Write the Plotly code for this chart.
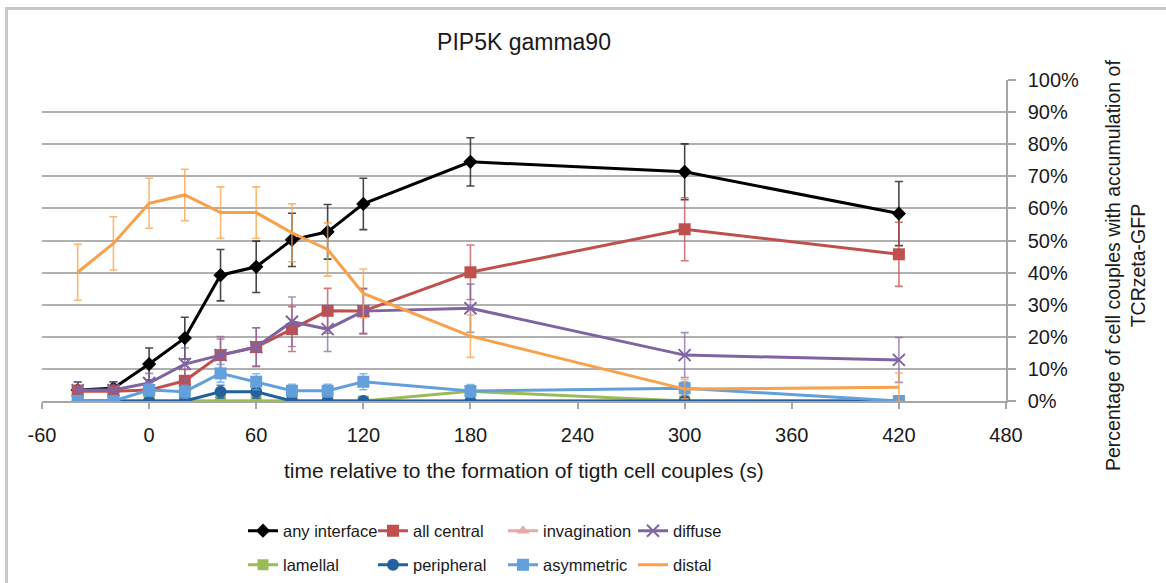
import plotly.graph_objects as go

# ---------------- data ----------------
time_s = [-40, -20, 0, 20, 40, 60, 80, 100, 120, 180, 300, 420]

series_names = ["any interface", "all central", "invagination", "diffuse",
                "lamellal", "peripheral", "asymmetric", "distal"]

any_interface = [3.4, 4.0, 11.5, 19.6, 39.2, 41.8, 50.2, 52.7, 61.4, 74.5, 71.4, 58.4]
any_interface_err = [2.5, 2.0, 5.0, 6.5, 8.0, 8.0, 8.3, 8.5, 8.0, 7.5, 8.7, 10.0]

all_central = [3.0, 3.0, 3.4, 6.3, 14.3, 16.8, 22.4, 28.1, 28.0, 40.1, 53.5, 45.7]
all_central_err = [2.0, 2.0, 2.5, 3.5, 5.0, 6.0, 7.0, 7.0, 7.0, 8.5, 9.8, 10.0]

invagination = [0, 0, 0, 0, 0, 0, 0, 0, 0, 0, 0, 0]
invagination_err = [0, 0, 0, 0, 0, 0, 0, 0, 0, 0, 0, 0]

diffuse = [3.4, 3.4, 5.6, 11.5, 14.3, 16.8, 24.7, 22.4, 28.0, 28.9, 14.3, 12.8]
diffuse_err = [2.5, 2.5, 3.0, 5.0, 5.8, 6.0, 7.7, 7.0, 7.0, 7.5, 7.0, 7.0]

lamellal = [0, 0, 0, 0, 0, 0, 0, 0, 0, 3.0, 0, 0]
lamellal_err = [0, 0, 0, 0, 0, 0, 0, 0, 0, 1.5, 0, 0]

peripheral = [0, 0, 0, 0, 2.9, 2.9, 0, 0, 0, 0, 0, 0]
peripheral_err = [0, 0, 0, 0, 2.0, 2.0, 0, 0, 0, 0, 0, 0]

asymmetric = [0, 0, 3.4, 2.9, 8.6, 6.0, 3.2, 3.2, 6.0, 3.1, 4.0, 0]
asymmetric_err = [0, 0, 2.0, 2.0, 2.8, 2.5, 2.0, 2.0, 2.5, 2.0, 2.0, 0]

distal = [40.1, 49.1, 61.6, 64.2, 58.7, 58.7, 52.4, 47.2, 33.5, 20.2, 3.7, 4.3]
distal_err = [8.7, 8.3, 7.8, 8.0, 8.0, 8.0, 9.0, 8.3, 7.6, 6.6, 3.0, 4.4]

x_ticks = [-60, 0, 60, 120, 180, 240, 300, 360, 420, 480]
y_ticks = [0, 10, 20, 30, 40, 50, 60, 70, 80, 90, 100]

# ---------------- styles ----------------
styles = [
    dict(color="#000000", err="rgba(40,40,40,0.85)", symbol="diamond", size=11, mode="lines+markers"),
    dict(color="#C0504D", err="rgba(192,80,77,0.75)", symbol="square", size=12, mode="lines+markers"),
    dict(color="#E6A9A8", err="rgba(230,169,168,0.75)", symbol="triangle-up", size=11, mode="lines+markers"),
    dict(color="#8064A2", err="rgba(128,100,162,0.7)", symbol="x-thin-open", size=12, mode="lines+markers"),
    dict(color="#9BBB59", err="rgba(155,187,89,0.75)", symbol="square", size=11, mode="lines+markers"),
    dict(color="#23609C", err="rgba(35,96,156,0.75)", symbol="circle", size=12, mode="lines+markers"),
    dict(color="#63A0DB", err="rgba(99,160,219,0.75)", symbol="square", size=12, mode="lines+markers"),
    dict(color="#F9A04A", err="rgba(249,160,74,0.75)", symbol="circle", size=1, mode="lines"),
]

values = [any_interface, all_central, invagination, diffuse,
          lamellal, peripheral, asymmetric, distal]
errors = [any_interface_err, all_central_err, invagination_err, diffuse_err,
          lamellal_err, peripheral_err, asymmetric_err, distal_err]

fig = go.Figure()
for i, (name, vals, errs, st) in enumerate(zip(series_names, values, errors, styles)):
    marker = dict(color=st["color"], symbol=st["symbol"], size=st["size"])
    if st["symbol"] == "x-thin-open":
        marker["line"] = dict(color=st["color"], width=2)
    fig.add_trace(go.Scatter(
        x=time_s, y=vals, name=name, mode=st["mode"],
        line=dict(color=st["color"], width=3),
        marker=marker,
        error_y=dict(type="data", array=errs, visible=True,
                     color=st["err"], thickness=1.6, width=4),
        legend="legend" if i < 4 else "legend2",
        showlegend=True,
    ))

FONT = "Liberation Sans, Arial, sans-serif"
TXT = "#1a1a1a"

# plot area in px: x 42..1006, y 80..401
W, H = 1166, 583
L, R, T, B = 42, W - 1006, 80, H - 401
PW, PH = 1006 - 42, 401 - 80

def px_x(px):
    return (px - L) / PW

def px_y(py):
    return (401 - py) / PH

def cy(py):
    return 1 - py / H

fig.update_layout(
    width=W, height=H,
    margin=dict(l=L, r=R, t=T, b=B, autoexpand=False),
    paper_bgcolor="white", plot_bgcolor="white",
    font=dict(family=FONT, color=TXT),
    title=dict(text="PIP5K gamma90", x=px_x(524), xref="paper", xanchor="center",
               y=cy(42), yanchor="middle",
               font=dict(size=23, family=FONT, color=TXT)),
    xaxis=dict(range=[-60, 480], tickvals=x_ticks, ticktext=[str(v) for v in x_ticks],
               showgrid=False, zeroline=False, automargin=False,
               showline=True, linecolor="#A6A6A6", linewidth=1.5,
               ticks="outside", ticklen=6, tickcolor="#A6A6A6", tickwidth=1.5,
               ticklabelstandoff=9,
               tickfont=dict(size=20, family=FONT, color=TXT)),
    yaxis=dict(range=[0, 100], side="right", tickvals=y_ticks,
               ticktext=[f"{v}%" for v in y_ticks], automargin=False,
               showgrid=True, gridcolor="#B0B0B0", gridwidth=1.6,
               zeroline=False,
               showline=True, linecolor="#A6A6A6", linewidth=1.5,
               ticks="outside", ticklen=8, tickcolor="#A6A6A6", tickwidth=1.5,
               ticklabelstandoff=8,
               tickfont=dict(size=20, family=FONT, color=TXT)),
    legend=dict(orientation="h", x=px_x(243), xanchor="left", y=px_y(531), yanchor="middle",
                entrywidth=85, entrywidthmode="pixels", itemwidth=30,
                font=dict(size=16.5, family=FONT, color=TXT), bgcolor="rgba(0,0,0,0)",
                traceorder="normal"),
    legend2=dict(orientation="h", x=px_x(243), xanchor="left", y=px_y(565), yanchor="middle",
                 entrywidth=85, entrywidthmode="pixels", itemwidth=30,
                 font=dict(size=16.5, family=FONT, color=TXT), bgcolor="rgba(0,0,0,0)",
                 traceorder="normal"),
    showlegend=True,
)

fig.add_annotation(text="time relative to the formation of tigth cell couples (s)",
                   xref="paper", yref="paper", x=px_x(524), y=px_y(470),
                   xanchor="center", yanchor="middle", showarrow=False,
                   font=dict(size=21, family=FONT, color=TXT))
fig.add_annotation(text="Percentage of cell couples with accumulation of<br>TCRzeta-GFP",
                   xref="paper", yref="paper", x=px_x(1125), y=px_y(266),
                   xanchor="center", yanchor="middle", showarrow=False, textangle=-90,
                   font=dict(size=19.5, family=FONT, color=TXT))

# outer chart frame
fig.add_shape(type="rect", xref="paper", yref="paper",
              x0=px_x(6.5), x1=px_x(1175), y0=px_y(595), y1=px_y(8.5),
              line=dict(color="#C8C8C8", width=3), fillcolor="rgba(0,0,0,0)", layer="below")

fig.write_html("out.html")
